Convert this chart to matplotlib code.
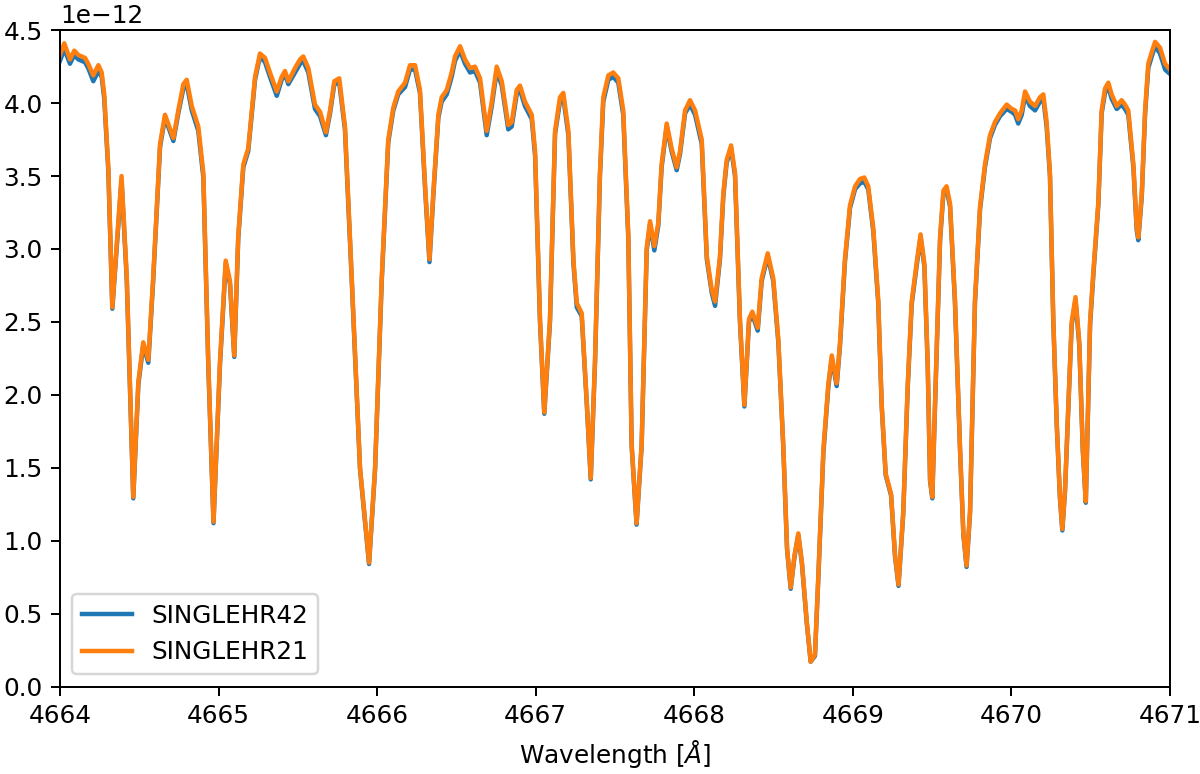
import numpy as np
import matplotlib.pyplot as plt

# wavelength grid (Angstrom)
wave = [4664.000, 4664.027, 4664.063, 4664.090, 4664.115, 4664.158, 4664.178, 4664.210, 4664.242, 4664.263,
        4664.279, 4664.305, 4664.330, 4664.388, 4664.421, 4664.462, 4664.494, 4664.525, 4664.557, 4664.588,
        4664.631, 4664.662, 4664.715, 4664.746, 4664.778, 4664.799, 4664.831, 4664.872, 4664.904, 4664.935,
        4664.968, 4665.009, 4665.045, 4665.072, 4665.099, 4665.124, 4665.156, 4665.187, 4665.230, 4665.261,
        4665.293, 4665.324, 4665.367, 4665.398, 4665.419, 4665.440, 4665.482, 4665.514, 4665.534, 4665.566,
        4665.608, 4665.640, 4665.677, 4665.703, 4665.730, 4665.761, 4665.797, 4665.840, 4665.892, 4665.949,
        4665.987, 4666.029, 4666.070, 4666.102, 4666.133, 4666.176, 4666.207, 4666.239, 4666.270, 4666.302,
        4666.330, 4666.354, 4666.386, 4666.407, 4666.439, 4666.470, 4666.491, 4666.523, 4666.554, 4666.586,
        4666.617, 4666.649, 4666.691, 4666.723, 4666.754, 4666.786, 4666.827, 4666.849, 4666.880, 4666.901,
        4666.932, 4666.975, 4666.996, 4667.027, 4667.054, 4667.090, 4667.122, 4667.153, 4667.174, 4667.206,
        4667.238, 4667.259, 4667.290, 4667.322, 4667.347, 4667.374, 4667.405, 4667.426, 4667.458, 4667.489,
        4667.521, 4667.552, 4667.584, 4667.605, 4667.636, 4667.668, 4667.700, 4667.721, 4667.748, 4667.773,
        4667.794, 4667.826, 4667.857, 4667.889, 4667.910, 4667.942, 4667.973, 4668.005, 4668.047, 4668.079,
        4668.110, 4668.131, 4668.162, 4668.183, 4668.204, 4668.232, 4668.257, 4668.288, 4668.316, 4668.345,
        4668.366, 4668.400, 4668.425, 4668.463, 4668.498, 4668.530, 4668.561, 4668.585, 4668.608, 4668.632,
        4668.656, 4668.679, 4668.709, 4668.734, 4668.761, 4668.782, 4668.814, 4668.845, 4668.867, 4668.898,
        4668.919, 4668.950, 4668.982, 4669.014, 4669.045, 4669.072, 4669.097, 4669.129, 4669.160, 4669.182,
        4669.207, 4669.241, 4669.266, 4669.288, 4669.318, 4669.346, 4669.371, 4669.403, 4669.427, 4669.451,
        4669.472, 4669.487, 4669.501, 4669.518, 4669.550, 4669.571, 4669.591, 4669.613, 4669.644, 4669.676,
        4669.697, 4669.717, 4669.739, 4669.770, 4669.802, 4669.833, 4669.865, 4669.896, 4669.928, 4669.970,
        4670.002, 4670.023, 4670.043, 4670.065, 4670.086, 4670.117, 4670.149, 4670.180, 4670.201, 4670.222,
        4670.243, 4670.264, 4670.286, 4670.306, 4670.321, 4670.338, 4670.359, 4670.380, 4670.404, 4670.428,
        4670.450, 4670.469, 4670.496, 4670.517, 4670.548, 4670.569, 4670.590, 4670.611, 4670.632, 4670.664,
        4670.695, 4670.716, 4670.737, 4670.769, 4670.790, 4670.800, 4670.822, 4670.843, 4670.863, 4670.885,
        4670.906, 4670.937, 4670.969, 4671.000]

# flux in units of 1e-12
flux_hr21 = [4.33, 4.41, 4.30, 4.36, 4.33, 4.31, 4.27, 4.19, 4.26, 4.21,
             4.06, 3.55, 2.60, 3.50, 2.81, 1.30, 2.09, 2.36, 2.24, 2.81,
             3.72, 3.92, 3.76, 3.95, 4.13, 4.16, 3.98, 3.84, 3.52, 2.23,
             1.13, 2.23, 2.92, 2.78, 2.27, 3.09, 3.58, 3.69, 4.18, 4.34,
             4.31, 4.21, 4.08, 4.18, 4.22, 4.15, 4.24, 4.30, 4.32, 4.24,
             3.99, 3.94, 3.80, 3.95, 4.15, 4.17, 3.84, 2.80, 1.50, 0.85,
             1.50, 2.80, 3.75, 3.97, 4.08, 4.14, 4.26, 4.26, 4.09, 3.44,
             2.93, 3.38, 3.92, 4.04, 4.09, 4.21, 4.32, 4.39, 4.30, 4.24,
             4.25, 4.17, 3.81, 4.01, 4.25, 4.15, 3.85, 3.87, 4.09, 4.12,
             4.01, 3.92, 3.67, 2.52, 1.88, 2.52, 3.81, 4.04, 4.07, 3.81,
             2.92, 2.63, 2.56, 1.95, 1.43, 2.24, 3.52, 4.04, 4.19, 4.21,
             4.17, 3.95, 3.09, 1.66, 1.12, 1.66, 3.01, 3.19, 3.02, 3.18,
             3.58, 3.86, 3.69, 3.56, 3.67, 3.95, 4.02, 3.95, 3.75, 2.95,
             2.72, 2.64, 2.95, 3.38, 3.61, 3.71, 3.52, 2.52, 1.93, 2.52,
             2.57, 2.46, 2.80, 2.97, 2.80, 2.38, 1.66, 0.95, 0.68, 0.90,
             1.05, 0.85, 0.45, 0.17, 0.22, 0.75, 1.62, 2.07, 2.27, 2.08,
             2.36, 2.93, 3.30, 3.43, 3.48, 3.49, 3.43, 3.14, 2.65, 1.93,
             1.46, 1.32, 0.90, 0.70, 1.20, 2.07, 2.64, 2.91, 3.10, 2.90,
             2.22, 1.42, 1.30, 1.93, 3.08, 3.40, 3.43, 3.31, 2.65, 1.63,
             1.05, 0.83, 1.20, 2.65, 3.29, 3.58, 3.78, 3.87, 3.93, 3.99,
             3.96, 3.95, 3.89, 3.95, 4.08, 4.01, 3.98, 4.04, 4.06, 3.87,
             3.52, 2.52, 1.80, 1.30, 1.08, 1.35, 1.93, 2.50, 2.67, 2.36,
             1.63, 1.27, 2.50, 2.85, 3.32, 3.95, 4.10, 4.14, 4.06, 3.98,
             4.02, 3.99, 3.95, 3.58, 3.15, 3.08, 3.38, 3.95, 4.27, 4.35,
             4.42, 4.38, 4.27, 4.23]

flux_hr42 = [4.29, 4.37, 4.27, 4.33, 4.30, 4.28, 4.24, 4.15, 4.22, 4.18,
             4.03, 3.53, 2.59, 3.47, 2.79, 1.29, 2.07, 2.34, 2.22, 2.79,
             3.70, 3.90, 3.74, 3.93, 4.10, 4.13, 3.95, 3.81, 3.49, 2.21,
             1.12, 2.21, 2.90, 2.76, 2.26, 3.07, 3.56, 3.67, 4.16, 4.32,
             4.28, 4.18, 4.05, 4.16, 4.20, 4.13, 4.21, 4.27, 4.29, 4.21,
             3.96, 3.91, 3.78, 3.93, 4.13, 4.14, 3.82, 2.78, 1.49, 0.84,
             1.49, 2.78, 3.73, 3.95, 4.06, 4.11, 4.23, 4.23, 4.07, 3.42,
             2.91, 3.36, 3.90, 4.01, 4.06, 4.18, 4.29, 4.36, 4.27, 4.21,
             4.22, 4.14, 3.78, 3.98, 4.22, 4.12, 3.82, 3.84, 4.06, 4.09,
             3.98, 3.89, 3.64, 2.50, 1.87, 2.50, 3.79, 4.01, 4.04, 3.78,
             2.90, 2.60, 2.54, 1.94, 1.42, 2.22, 3.50, 4.01, 4.16, 4.18,
             4.14, 3.92, 3.07, 1.65, 1.11, 1.65, 2.99, 3.17, 2.99, 3.16,
             3.56, 3.84, 3.67, 3.54, 3.65, 3.93, 3.99, 3.92, 3.72, 2.93,
             2.70, 2.61, 2.93, 3.36, 3.59, 3.69, 3.50, 2.50, 1.92, 2.50,
             2.55, 2.44, 2.78, 2.95, 2.78, 2.36, 1.65, 0.94, 0.67, 0.89,
             1.04, 0.84, 0.44, 0.17, 0.21, 0.74, 1.60, 2.05, 2.25, 2.06,
             2.34, 2.91, 3.28, 3.41, 3.45, 3.46, 3.41, 3.12, 2.63, 1.92,
             1.45, 1.31, 0.89, 0.69, 1.19, 2.05, 2.62, 2.89, 3.08, 2.88,
             2.20, 1.41, 1.29, 1.92, 3.06, 3.38, 3.41, 3.29, 2.63, 1.62,
             1.04, 0.82, 1.19, 2.63, 3.27, 3.56, 3.76, 3.85, 3.91, 3.96,
             3.94, 3.92, 3.86, 3.92, 4.05, 3.98, 3.95, 4.01, 4.03, 3.84,
             3.50, 2.50, 1.79, 1.29, 1.07, 1.34, 1.92, 2.48, 2.65, 2.34,
             1.62, 1.26, 2.48, 2.83, 3.30, 3.93, 4.07, 4.11, 4.03, 3.96,
             3.99, 3.96, 3.92, 3.56, 3.13, 3.06, 3.36, 3.93, 4.24, 4.32,
             4.39, 4.34, 4.23, 4.20]

wave = np.array(wave)
f42 = np.array(flux_hr42) * 1e-12
f21 = np.array(flux_hr21) * 1e-12

# default styling, rendered at high dpi so that 1200x774 px comes out
dpi = 178
fig = plt.figure(figsize=(1200 / dpi, 774 / dpi), dpi=dpi)
ax = fig.add_axes([0.05, 0.113, 0.925, 0.848])
ax.plot(wave, f42, lw=1.8, label='SINGLEHR42')
ax.plot(wave, f21, lw=1.8, label='SINGLEHR21')
ax.set_xlim(4664, 4671)
ax.set_ylim(0, 4.5e-12)
ax.ticklabel_format(axis='x', useOffset=False)
ax.set_xlabel(r'Wavelength [$\AA$]')
ax.legend(loc='lower left')
fig.savefig('out.png', dpi=dpi)
